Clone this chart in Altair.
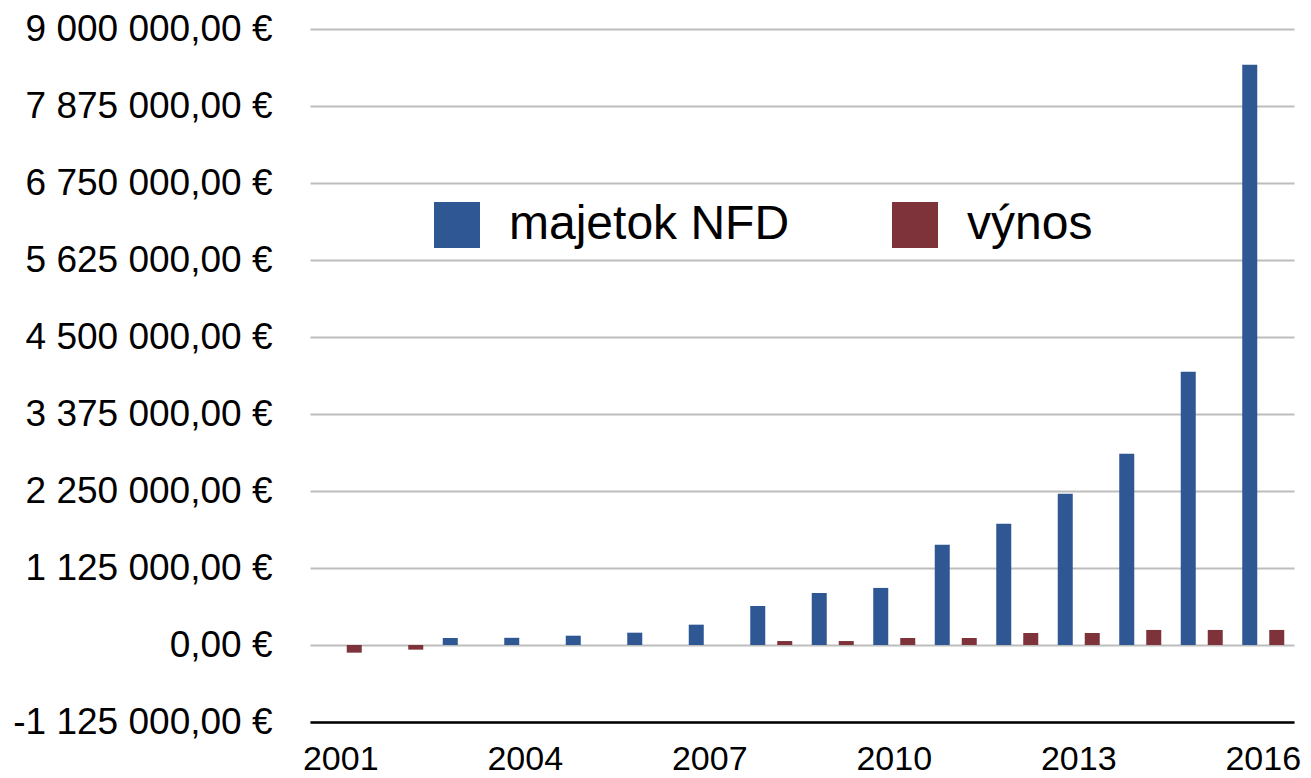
import altair as alt
import pandas as pd

years = [str(y) for y in range(2001, 2017)]
majetok = [0, 0, 102000, 105000, 136000, 180000, 297000, 570000, 760000, 834000,
           1463000, 1770000, 2209000, 2794000, 3993000, 8478000]
vynos = [-112000, -68000, 0, 0, 0, 0, 0, 58000, 58000, 102000,
         102000, 175000, 175000, 220000, 220000, 220000]
series = ["majetok NFD", "výnos"]
colors = ["#2F5793", "#7E333A"]
y_ticks = [-1125000 + i * 1125000 for i in range(10)]
x_labels = ["2001", "2004", "2007", "2010", "2013", "2016"]

rows = []
for i, y in enumerate(years):
    rows.append({"rok": y, "séria": series[0], "hodnota": majetok[i]})
    rows.append({"rok": y, "séria": series[1], "hodnota": vynos[i]})
df = pd.DataFrame(rows)

FONT = "Liberation Sans"

label_expr = ("replace(replace(replace(format(datum.value, ',.2f'), regexp(',', 'g'), ' '), "
              "regexp('\\\\.'), ','), regexp('\u2212'), '-') + ' €'")

chart = alt.Chart(df).mark_bar().encode(
    x=alt.X("rok:O", sort=years,
            scale=alt.Scale(paddingInner=0.317, paddingOuter=0.1585),
            axis=alt.Axis(title=None, values=x_labels, labelAngle=0, ticks=False, tickSize=0,
                          domainColor="black", domainWidth=2.5, labelFontSize=34,
                          labelFont=FONT, labelColor="black", labelPadding=47,
                          labelBaseline="alphabetic", grid=False)),
    xOffset=alt.XOffset("séria:N", sort=series,
                        scale=alt.Scale(paddingInner=0.444, paddingOuter=0)),
    y=alt.Y("hodnota:Q",
            scale=alt.Scale(domain=[-1125000, 9000000], nice=False, zero=False),
            axis=alt.Axis(title=None, values=y_ticks, ticks=False, tickSize=0, domain=False,
                          labelExpr=label_expr, labelFontSize=37, labelFont=FONT,
                          labelColor="black", labelPadding=38, labelLimit=400,
                          gridColor="#bdbdbd", gridWidth=2, gridOpacity=1)),
    color=alt.Color("séria:N", sort=series,
                    scale=alt.Scale(domain=series, range=colors),
                    legend=alt.Legend(title=None, orient="none", legendX=123, legendY=172,
                                      direction="horizontal", symbolType="square",
                                      symbolSize=2116, symbolStrokeWidth=0, symbolOpacity=1,
                                      labelFontSize=48, labelFont=FONT, labelColor="black",
                                      labelOffset=28, columnPadding=101, labelLimit=600,
                                      padding=0)),
).properties(
    width=984,
    height=693,
    autosize=alt.AutoSizeParams(type="none"),
    padding={"left": 302, "top": 21, "right": 9, "bottom": 54},
    background="white",
).configure_view(stroke=None)

chart.save("out.html", embed_options={"renderer": "svg", "actions": False})
